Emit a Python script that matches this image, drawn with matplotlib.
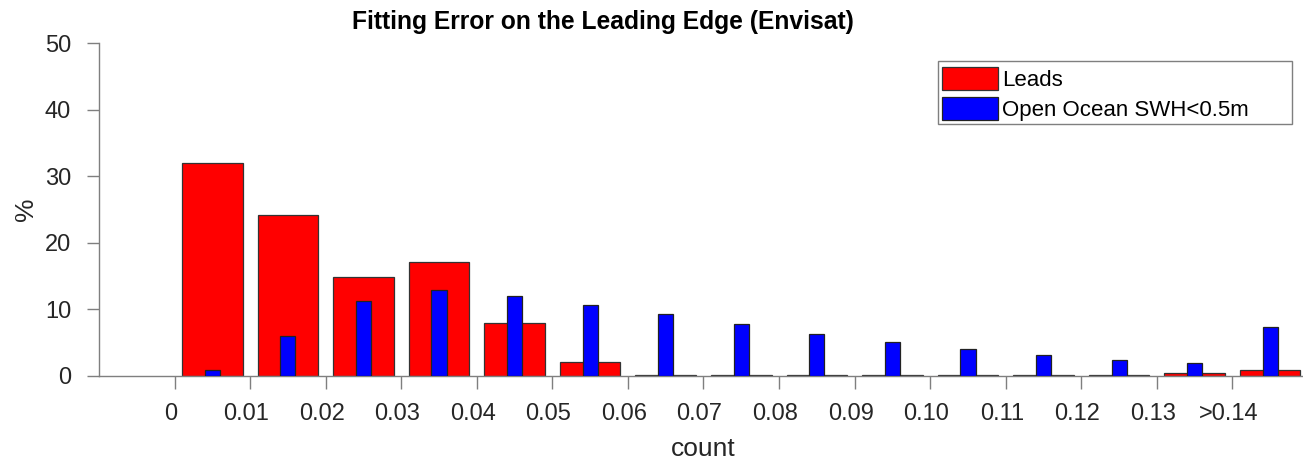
import matplotlib
matplotlib.use("Agg")
import matplotlib.pyplot as plt
import matplotlib.transforms as mtransforms
from matplotlib.patches import Rectangle
import numpy as np

# bins of the fitting error, last one is the overflow bin
tick_labels = ["0", "0.01", "0.02", "0.03", "0.04", "0.05", "0.06", "0.07",
               "0.08", "0.09", "0.10", "0.11", "0.12", "0.13", ">0.14"]
leads = [32.0, 24.2, 14.9, 17.1, 8.0, 2.05, 0.05, 0.05, 0.05, 0.05,
         0.05, 0.15, 0.1, 0.35, 0.9]
ocean = [0.85, 5.9, 11.2, 12.85, 11.95, 10.6, 9.3, 7.8, 6.3, 5.1,
         4.0, 3.05, 2.35, 1.9, 7.35]

plt.rcParams['font.family'] = ['Liberation Sans', 'DejaVu Sans']
TICK_GRAY = "#7f7f7f"
TEXT_GRAY = "#262626"

W, H = 1303, 459
fig = plt.figure(figsize=(W / 100, H / 100), dpi=100)
ax = fig.add_axes([99 / W, 1 - 375.7 / H, 1209 / W, 332.4 / H])

centers = np.arange(len(leads)) + 0.5
ax.bar(centers, leads, width=0.8, color="#ff0000", edgecolor="#333333",
       linewidth=0.9, label="Leads", zorder=2)
ax.bar(centers, ocean, width=0.2, color="#0000ff", edgecolor="#222222",
       linewidth=0.9, label="Open Ocean SWH<0.5m", zorder=3)

ax.set_xlim(-1, 15)
ax.set_ylim(0, 50)
ax.set_xticks(np.arange(len(tick_labels)))
ax.set_xticklabels(tick_labels)
ax.set_yticks([0, 10, 20, 30, 40, 50])

for side in ["top", "right"]:
    ax.spines[side].set_visible(False)
for side in ["left", "bottom"]:
    ax.spines[side].set_color(TICK_GRAY)
    ax.spines[side].set_linewidth(1.0)

ax.tick_params(axis="both", direction="out", length=9, width=1.0,
               color=TICK_GRAY, labelcolor=TEXT_GRAY, labelsize=17)
ax.tick_params(axis="x", pad=11)
ax.tick_params(axis="y", pad=11)

# labels sit a little left of their ticks in the original
offset = mtransforms.ScaledTranslation(-4 / 100, 0, fig.dpi_scale_trans)
for lab in ax.get_xticklabels():
    lab.set_transform(lab.get_transform() + offset)

ax.set_xlabel("count", fontsize=19, color=TEXT_GRAY, labelpad=8)
ax.set_ylabel("%", fontsize=19, color=TEXT_GRAY, labelpad=5)
fig.text(603 / W, 1 - 29 / H, "Fitting Error on the Leading Edge (Envisat)",
         fontsize=17.7, fontweight="bold", color="black",
         ha="center", va="baseline")

# matlab style legend box, wider than the entries
box = Rectangle((938 / W, 1 - 124 / H), 354 / W, 63 / H,
                transform=fig.transFigure, facecolor="white",
                edgecolor=TICK_GRAY, linewidth=1.0, zorder=4, clip_on=False)
ax.add_artist(box)
leg = ax.legend(loc="upper left", bbox_to_anchor=(940 / W, 1 - 64.5 / H),
                bbox_transform=fig.transFigure, borderaxespad=0, fontsize=16,
                handlelength=2.5, handleheight=1.2, handletextpad=0.2,
                borderpad=0.1, labelspacing=0.3, frameon=False)
leg.set_zorder(5)

fig.savefig("out.png", dpi=100)
